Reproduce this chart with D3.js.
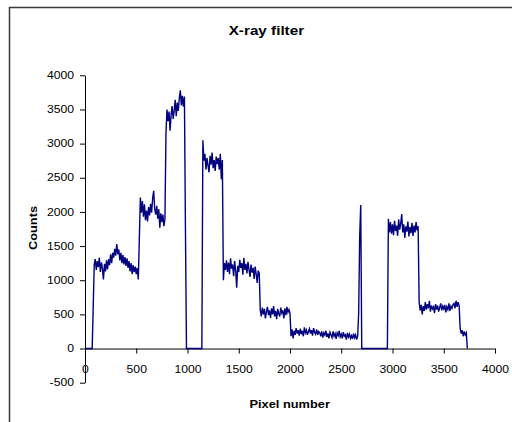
<!DOCTYPE html>
<html>
<head>
<meta charset="utf-8">
<script src="https://cdn.jsdelivr.net/npm/d3@7"></script>
<style>
  html, body { margin: 0; padding: 0; background: #fff; }
  svg { display: block; font-family: "Liberation Sans", Arial, sans-serif; }
</style>
</head>
<body>
<svg id="chart" width="512" height="422"></svg>
<script>
// Detector readout: counts sampled every 10 pixels along the strip
const pixelStep = 10;
const counts = [
  0, 0, 0, 0, 0, 0, 0, 0, 600, 1230,
  1310, 1150, 1280, 1190, 1330, 1120, 1260, 1170, 1010, 1240,
  1130, 1290, 1160, 1310, 1220, 1380, 1250, 1400, 1330, 1460,
  1360, 1530, 1380, 1450, 1290, 1400, 1250, 1370, 1230, 1340,
  1210, 1320, 1180, 1280, 1130, 1250, 1090, 1220, 1120, 1200,
  1090, 1180, 1010, 1600, 2210, 1990, 2160, 1930, 2110, 1880,
  2020, 1860, 2070, 1950, 2120, 1990, 2200, 2310, 2050, 1960,
  2090, 1900, 2040, 1770, 1980, 1850, 1960, 1790, 1900, 3150,
  3500, 3330, 3470, 3190, 3420, 3550, 3360, 3480, 3640, 3400,
  3600, 3480, 3660, 3780, 3560, 3700, 3540, 3690, 1750, 0,
  0, 0, 0, 0, 0, 0, 0, 0, 0, 0,
  0, 0, 0, 0, 0, 3050, 2750, 2850, 2620, 2790,
  2680, 2580, 2820, 2690, 2870, 2640, 2760, 2600, 2810, 2700,
  2790, 2620, 2850, 2480, 2760, 1000, 1250, 1150, 1290, 1120,
  1260, 1090, 1320, 1170, 1230, 1060, 1280, 1140, 890, 1210,
  1120, 1300, 1180, 1250, 1080, 1330, 1150, 1240, 1100, 1270,
  1160, 1050, 1230, 1110, 1180, 1020, 1200, 1090, 960, 1140,
  1100, 560, 470, 600, 500, 580, 440, 540, 610, 490,
  560, 450, 590, 500, 620, 470, 550, 430, 580, 510,
  470, 600, 520, 560, 440, 590, 490, 610, 530, 570,
  520, 180, 280, 150, 260, 200, 300, 220, 270, 190,
  290, 210, 260, 180, 310, 230, 270, 200, 250, 290,
  220, 270, 190, 300, 240, 210, 280, 200, 250, 230,
  180, 250, 160, 230, 200, 260, 170, 220, 150, 240,
  200, 160, 250, 180, 220, 140, 230, 190, 260, 170,
  210, 150, 240, 180, 200, 130, 230, 170, 210, 150,
  190, 140, 220, 160, 200, 130, 180, 520, 1650, 2100,
  0, 0, 0, 0, 0, 0, 0, 0, 0, 0,
  0, 0, 0, 0, 0, 0, 0, 0, 0, 0,
  0, 0, 0, 0, 0, 0, 1900, 1700, 1850, 1680,
  1820, 1660, 1870, 1720, 1800, 1650, 1890, 1740, 1830, 1970,
  1700, 1820, 1620, 1790, 1710, 1860, 1640, 1780, 1690, 1840,
  1650, 1800, 1700, 1850, 1730, 1790, 680, 560, 640, 500,
  620, 550, 680, 570, 650, 590, 700, 540, 630, 580,
  610, 520, 650, 570, 630, 540, 600, 660, 560, 620,
  580, 640, 530, 610, 570, 660, 550, 620, 590, 640,
  660, 590, 700, 610, 680, 630, 300, 220, 270, 180,
  250, 200, 230, 0
];
const pixels = counts.map((_, i) => i * pixelStep);

const xTicks = [0, 500, 1000, 1500, 2000, 2500, 3000, 3500, 4000];
const yTicks = [-500, 0, 500, 1000, 1500, 2000, 2500, 3000, 3500, 4000];

const titleText = "X-ray filter";
const xTitle = "Pixel number";
const yTitle = "Counts";

const STRETCH = 1.22;
const svg = d3.select("#chart");

// Chart frame
svg.append("path")
  .attr("d", "M9.5,430 V7.5 H520")
  .attr("fill", "none")
  .attr("stroke", "#3a3a3a")
  .attr("stroke-width", 1.5);

const x = d3.scaleLinear().domain([0, 4000]).range([85, 495]);
const y = d3.scaleLinear().domain([-500, 4000]).range([382.7, 75.3]);

// Plain integer labels with an ASCII hyphen for negatives
const plain = d => String(d);

function widen(sel) {
  sel.each(function () {
    const t = d3.select(this);
    const x0 = +t.attr("x") || 0;
    t.attr("transform", `translate(${x0},0) scale(${STRETCH},1) translate(${-x0},0)`);
  });
}

// Y axis
const yAxis = svg.append("g")
  .attr("transform", `translate(${x(0)},0)`)
  .call(d3.axisLeft(y).tickValues(yTicks).tickSize(5).tickSizeOuter(0).tickPadding(6).tickFormat(plain));
yAxis.selectAll("text").attr("font-size", 10).attr("fill", "#000").attr("font-family", null).call(widen);
yAxis.selectAll("line, path").attr("stroke", "#000");

// X axis drawn along the zero line
const xAxis = svg.append("g")
  .attr("transform", `translate(0,${y(0)})`)
  .call(d3.axisBottom(x).tickValues(xTicks).tickSize(5).tickSizeOuter(0).tickPadding(12).tickFormat(plain));
xAxis.selectAll("text").attr("font-size", 10).attr("fill", "#000").attr("font-family", null).call(widen);
xAxis.selectAll("line, path").attr("stroke", "#000");

// Signal trace
const line = d3.line()
  .x((d, i) => x(pixels[i]))
  .y(d => y(d));
svg.append("path")
  .datum(counts)
  .attr("d", line)
  .attr("fill", "none")
  .attr("stroke", "#000080")
  .attr("stroke-width", 1.4)
  .attr("stroke-linejoin", "miter");

// Titles
svg.append("text")
  .attr("transform", `translate(266.4,35) scale(${STRETCH},1)`)
  .attr("text-anchor", "middle")
  .attr("font-size", 12.5)
  .attr("font-weight", "bold")
  .text(titleText);

svg.append("text")
  .attr("transform", `translate(289.7,408) scale(${STRETCH},1)`)
  .attr("text-anchor", "middle")
  .attr("font-size", 10.5)
  .attr("font-weight", "bold")
  .text(xTitle);

svg.append("text")
  .attr("transform", `translate(36.5,228) rotate(-90) scale(${STRETCH},1)`)
  .attr("text-anchor", "middle")
  .attr("font-size", 10.5)
  .attr("font-weight", "bold")
  .text(yTitle);
</script>
</body>
</html>
